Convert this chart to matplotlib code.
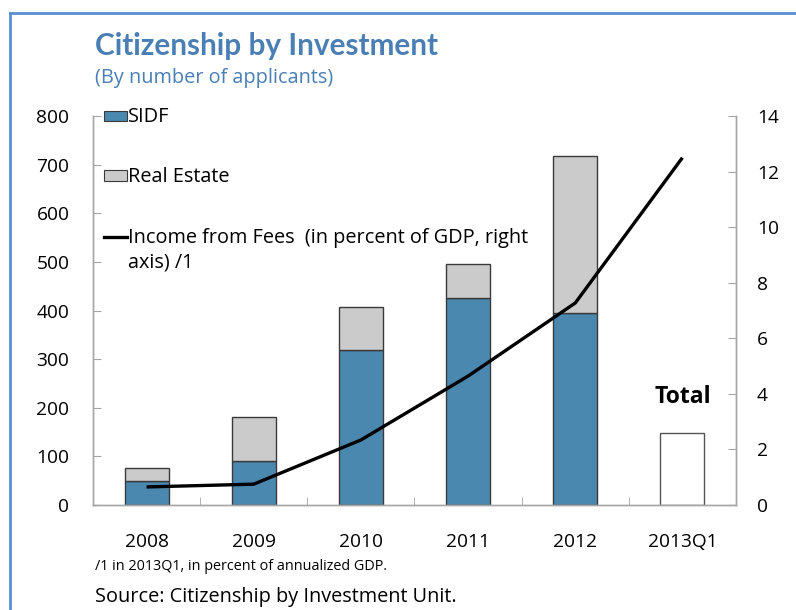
import matplotlib
matplotlib.use("Agg")
import matplotlib.pyplot as plt
from matplotlib.patches import Rectangle
from matplotlib.lines import Line2D

plt.rcParams['font.family'] = ['Open Sans', 'DejaVu Sans']

# Data
categories = ["2008", "2009", "2010", "2011", "2012", "2013Q1"]
sidf = [49, 90, 319, 426, 395, 0]
real_estate = [27, 91, 88, 70, 323, 0]
total_only = [0, 0, 0, 0, 0, 148]
fees_pct_gdp = [0.65, 0.75, 2.34, 4.64, 7.27, 12.5]

left_ticks = [0, 100, 200, 300, 400, 500, 600, 700, 800]
right_ticks = [0, 2, 4, 6, 8, 10, 12, 14]

blue = "#4a88b0"
grey = "#cbcbcb"
edge = "#3a3a3a"
spine_col = "#a6a6a6"
title_col = "#4a7fb5"
fs = 13.8
fs_text = 14.3

fig = plt.figure(figsize=(7.96, 6.10), dpi=100)
ax = fig.add_axes([93 / 796, 1 - 505 / 610, (736 - 93) / 796, (505 - 116) / 610])
ax2 = ax.twinx()

x = list(range(len(categories)))
w = 0.41
ax.bar(x, sidf, width=w, color=blue, edgecolor=edge, linewidth=1.0, zorder=2)
ax.bar(x, real_estate, width=w, bottom=sidf, color=grey, edgecolor=edge,
       linewidth=1.0, zorder=2)
ax.bar(x, total_only, width=w, color="white", edgecolor="#555555", linewidth=1.0, zorder=2)

ax2.plot(x, fees_pct_gdp, color="black", linewidth=2.4, solid_capstyle="butt", zorder=3)

ax.set_xlim(-0.5, len(categories) - 0.5)
ax.set_ylim(0, 800)
ax2.set_ylim(0, 14)
ax.set_yticks(left_ticks)
ax2.set_yticks(right_ticks)
ax.set_xticks(x)
ax.set_xticklabels(categories)
ax.set_xticks([i + 0.5 for i in range(len(categories) - 1)], minor=True)

for a in (ax, ax2):
    a.spines["top"].set_visible(False)
    for s in ("left", "right", "bottom"):
        a.spines[s].set_color(spine_col)
        a.spines[s].set_linewidth(1.0)
    a.set_facecolor("none")

ax.tick_params(axis="y", direction="in", length=6, color=spine_col, pad=17,
               labelsize=fs, labelcolor="black")
ax2.tick_params(axis="y", direction="in", length=6, color=spine_col, pad=15,
                labelsize=fs, labelcolor="black")
ax.tick_params(axis="x", which="major", length=0, pad=20, labelsize=fs)
ax.tick_params(axis="x", which="minor", direction="in", length=6, color=spine_col)

# Legend drawn in axes coordinates
lx0, lx1 = 0.017, 0.053
ax.add_patch(Rectangle((lx0, 0.986), lx1 - lx0, 0.028, transform=ax.transAxes,
                       facecolor=blue, edgecolor=edge, linewidth=0.8, clip_on=False, zorder=5))
ax.text(lx1 + 0.001, 0.998, "SIDF", transform=ax.transAxes, va="center", ha="left",
        fontsize=fs_text)
ax.add_patch(Rectangle((lx0, 0.832), lx1 - lx0, 0.028, transform=ax.transAxes,
                       facecolor=grey, edgecolor=edge, linewidth=0.8, clip_on=False, zorder=5))
ax.text(lx1 + 0.001, 0.844, "Real Estate", transform=ax.transAxes, va="center", ha="left",
        fontsize=fs_text)
ax.add_line(Line2D([lx0, lx1], [0.689, 0.689], transform=ax.transAxes, color="black",
                   linewidth=2.4, clip_on=False))
ax.text(lx1 + 0.001, 0.687, "Income from Fees  (in percent of GDP, right", transform=ax.transAxes,
        va="center", ha="left", fontsize=fs_text)
ax.text(lx1 + 0.001, 0.623, "axis) /1", transform=ax.transAxes, va="center", ha="left",
        fontsize=fs_text)

ax.text(5, 222, "Total", ha="center", va="center", fontsize=16.5, fontweight="bold")

# Titles and notes
fig.text(95 / 796, 1 - 46 / 610, "Citizenship by Investment", color=title_col,
         fontsize=21.4, fontweight="bold", ha="left", va="center", family=["Lato"])
fig.text(95 / 796, 1 - 78 / 610, "(By number of applicants)", color=title_col,
         fontsize=fs_text, ha="left", va="center")
fig.text(95 / 796, 1 - 567 / 610, "/1 in 2013Q1, in percent of annualized GDP.",
         fontsize=10.4, ha="left", va="center")
fig.text(95 / 796, 1 - 597 / 610, "Source: Citizenship by Investment Unit.",
         fontsize=fs_text, ha="left", va="center")

# Panel frame
fig.add_artist(Line2D([10 / 796, 10 / 796], [0, 1 - 13 / 610], transform=fig.transFigure,
                      color="#5b8fd0", linewidth=2.0))
fig.add_artist(Line2D([10 / 796, 1], [1 - 13 / 610, 1 - 13 / 610], transform=fig.transFigure,
                      color="#5b8fd0", linewidth=2.0))

fig.savefig("out.png", dpi=100)
